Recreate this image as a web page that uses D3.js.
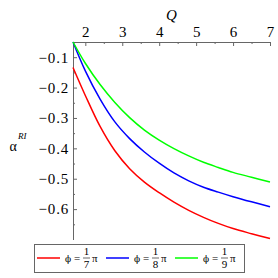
<!DOCTYPE html>
<meta charset="utf-8">
<style>
  body { margin: 0; background: #fff; }
  .axis path, .axis line { stroke: #666; }
</style>
<body>
<svg id="chart"></svg>
<script src="https://d3js.org/d3.v7.min.js"></script>
<script>
  var width = 278,
    height = 278,
    serif = "Times New Roman, Liberation Serif, serif";

  // values
  var qValues = [5 / 3, 2, 2.4, 2.8, 3.2, 3.6, 4.0, 4.4, 4.8, 5.2, 5.6, 6.0, 6.5, 7.0];
  var alphaSeventh = [-0.134, -0.226, -0.328, -0.408, -0.467, -0.511, -0.546, -0.577, -0.604, -0.627, -0.647, -0.664, -0.681, -0.697];
  var alphaEighth = [-0.05, -0.145, -0.238, -0.313, -0.368, -0.412, -0.449, -0.481, -0.507, -0.528, -0.544, -0.559, -0.576, -0.592];
  var alphaNinth = [-0.05, -0.120, -0.190, -0.249, -0.299, -0.340, -0.373, -0.401, -0.425, -0.446, -0.463, -0.479, -0.495, -0.511];
  var seriesNames = ["7", "8", "9"];
  var seriesColors = ["#ff0000", "#0000ff", "#00ff00"];
  var xTicks = [2, 3, 4, 5, 6, 7];
  var yTicks = [-0.1, -0.2, -0.3, -0.4, -0.5, -0.6];

  var series = [alphaSeventh, alphaEighth, alphaNinth];

  var x = d3.scaleLinear()
    .domain([5 / 3, 7])
    .range([73, 270]);

  var y = d3.scaleLinear()
    .domain([-0.05, -0.7])
    .range([42, 239.5]);

  var svg = d3.select("#chart")
    .attr("width", width)
    .attr("height", height);

  // minor ticks
  svg.append("g")
    .attr("class", "axis")
    .attr("transform", "translate(0," + y(-0.05) + ")")
    .call(d3.axisTop(x).tickValues([2.5, 3.5, 4.5, 5.5, 6.5]).tickSize(-2).tickFormat(""))
    .select(".domain").remove();

  svg.append("g")
    .attr("class", "axis")
    .attr("transform", "translate(" + x(5 / 3) + ",0)")
    .call(d3.axisLeft(y).tickValues([-0.15, -0.25, -0.35, -0.45, -0.55, -0.65]).tickSize(-2).tickFormat(""))
    .select(".domain").remove();

  var xAxis = svg.append("g")
    .attr("class", "axis")
    .attr("transform", "translate(0," + y(-0.05) + ")")
    .call(d3.axisTop(x).tickValues(xTicks).tickSize(-4).tickSizeOuter(0).tickPadding(5).tickFormat(d3.format("d")));

  var yAxis = svg.append("g")
    .attr("class", "axis")
    .attr("transform", "translate(" + x(5 / 3) + ",0)")
    .call(d3.axisLeft(y).tickValues(yTicks).tickSize(-4).tickSizeOuter(0).tickPadding(4).tickFormat(d3.format(".1f")));

  [xAxis, yAxis].forEach(function (a) {
    a.attr("font-family", serif).attr("font-size", 15);
    a.selectAll("text").attr("fill", "#000");
  });
  yAxis.selectAll("text").attr("letter-spacing", 0.8);

  var line = d3.line()
    .x(function (d) { return x(d[0]); })
    .y(function (d) { return y(d[1]); })
    .curve(d3.curveCatmullRom);

  svg.selectAll(".curve")
    .data(series)
    .enter().append("path")
    .attr("class", "curve")
    .attr("fill", "none")
    .attr("stroke", function (d, i) { return seriesColors[i]; })
    .attr("stroke-width", 1.5)
    .attr("d", function (d) {
      return line(qValues.map(function (q, i) { return [q, d[i]]; }));
    });

  // axis titles
  svg.append("text")
    .attr("x", 171.5)
    .attr("y", 20)
    .attr("text-anchor", "middle")
    .attr("font-family", serif)
    .attr("font-size", 15)
    .attr("font-style", "italic")
    .text("Q");

  svg.append("text")
    .attr("x", 9.5)
    .attr("y", 151)
    .attr("font-family", serif)
    .attr("font-size", 14)
    .text("α");
  svg.append("text")
    .attr("x", 18)
    .attr("y", 138.5)
    .attr("font-family", serif)
    .attr("font-size", 9)
    .attr("font-style", "italic")
    .text("RI");

  // legend
  var legend = svg.append("g")
    .attr("font-family", serif)
    .attr("font-size", 11);
  legend.append("rect")
    .attr("x", 34.5)
    .attr("y", 244.5)
    .attr("width", 210)
    .attr("height", 28)
    .attr("fill", "#fff")
    .attr("stroke", "#666")
    .attr("stroke-width", 1);

  var starts = [37, 106, 175];
  seriesNames.forEach(function (n, i) {
    var g = legend.append("g").attr("transform", "translate(" + starts[i] + ",0)");
    g.append("line")
      .attr("x1", 0).attr("x2", 23)
      .attr("y1", 258).attr("y2", 258)
      .attr("stroke", seriesColors[i])
      .attr("stroke-width", 1.5);
    var t = g.append("text")
      .attr("x", 28).attr("y", 262)
      .attr("fill", "#000");
    t.append("tspan").attr("font-family", "DejaVu Serif").attr("font-size", 9).text("ϕ");
    t.append("tspan").text(" =");
    g.append("text")
      .attr("x", 49.5).attr("y", 255)
      .attr("text-anchor", "middle")
      .text("1");
    g.append("line")
      .attr("x1", 46).attr("x2", 53)
      .attr("y1", 258).attr("y2", 258)
      .attr("stroke", "#000")
      .attr("stroke-width", 0.6);
    g.append("text")
      .attr("x", 49.5).attr("y", 268)
      .attr("text-anchor", "middle")
      .text(n);
    g.append("text")
      .attr("x", 55).attr("y", 262)
      .text("π");
  });
</script>
</body>
